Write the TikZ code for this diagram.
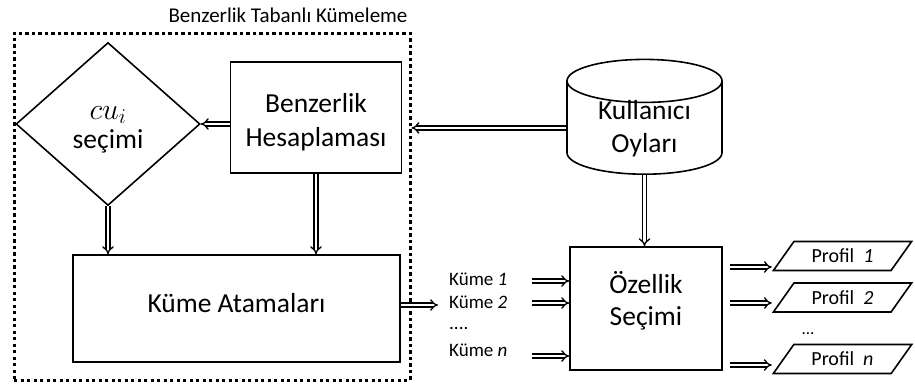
\RequirePackage{fix-cm}
\documentclass[tikz,border=0pt]{standalone}
\usepackage{fontspec}
\setmainfont{Carlito}
\usetikzlibrary{shapes}
\usetikzlibrary{shapes.geometric}
\usetikzlibrary{positioning}
\usetikzlibrary{arrows.meta}
\tikzset{
    boxnode/.style = {rectangle, line width=1.6pt, draw=black, align=center, fill=white, font=\fontsize{27.5}{33}\selectfont, text=black, inner sep=0pt},
    dianode/.style = {diamond, line width=1.6pt, draw=black, align=center, fill=white, font=\fontsize{27.5}{29}\selectfont, text=black, inner sep=0pt},
    cylnode/.style = {cylinder, shape border rotate=90, line width=1.6pt, draw=black, align=center, fill=white, font=\fontsize{27.5}{33}\selectfont, text=black, inner sep=0pt},
    profnode/.style = {trapezium, trapezium left angle=47, trapezium right angle=133, trapezium stretches=true, line width=1.6pt, draw=black, align=center, font=\fontsize{20}{22}\selectfont, text=black, inner sep=0pt},
    framenode/.style = {rectangle, line width=3pt, draw=black, dash pattern=on 3.2pt off 3.3pt},
    kumenode/.style = {anchor=west, inner sep=0pt, font=\fontsize{19}{22}\selectfont, text=black},
    titlenode/.style = {inner sep=0pt, font=\fontsize{21}{24}\selectfont, text=black},
    dbledge/.style = {double, double distance=2.6pt, line width=1.3pt, -{Implies}}
}

\begin{document}
\begin{tikzpicture}[x=1pt, y=-1pt]
  \useasboundingbox (0,0) rectangle (915,388);
  % dotted group
  \node[framenode, minimum width=396, minimum height=347] (frame) at (212,206.5) {};
  \node[titlenode] (title) at (288,15) {Benzerlik Tabanlı Kümeleme};
  % blocks
  \node[dianode, minimum width=184, minimum height=163, text height=54pt, text depth=6pt] (dia) at (108,124) {\fontsize{30}{29}\selectfont$cu_i$\\seçimi};
  \node[boxnode, minimum width=171, minimum height=111, text height=63pt, text depth=6pt, font=\fontsize{27.5}{34}\selectfont] (ben) at (316,117.5) {Benzerlik\\Hesaplaması};
  \node[boxnode, minimum width=327, minimum height=107, text height=19.5pt, text depth=12pt] (kat) at (236.5,308.5) {Küme Atamaları};
  \node[cylnode, minimum width=155, minimum height=98, aspect=0.5, text height=49.5pt, text depth=-12.5pt, anchor=south] (cyl) at (644.5,175) {\makebox[86pt][c]{Kullanıcı}\\Oyları};
  \node[boxnode, minimum width=152, minimum height=123, text height=39pt, text depth=6pt, font=\fontsize{27.5}{32}\selectfont] (ozl) at (646,308.5) {Özellik\\Seçimi};
  % cluster labels
  \node[kumenode] (k1) at (449,279) {Küme \textit{1}};
  \node[kumenode] (k2) at (449,302) {Küme \textit{2}};
  \node[kumenode] (kd) at (449,328) {....};
  \node[kumenode] (kn) at (449,350) {Küme \textit{n}};
  % profiles
  \node[profnode, minimum width=139, minimum height=29] (p1) at (842.5,256) {Profil~~\textit{1}};
  \node[profnode, minimum width=139, minimum height=29] (p2) at (842.5,297.5) {Profil~~\textit{2}};
  \node[titlenode, font=\fontsize{17}{18}\selectfont] (pd) at (808,334) {...};
  \node[profnode, minimum width=139, minimum height=29] (pn) at (842.5,359) {Profil~~\textit{n}};
  % free ends
  \coordinate (katout) at (438,305);
  \coordinate (ki1) at (532,281);
  \coordinate (ki2) at (532,303);
  \coordinate (kin) at (532,356);
  \coordinate (po1) at (730,267);
  \coordinate (po2) at (730,303);
  \coordinate (pon) at (730,365);
  % arrows
  \draw[dbledge] (ben.west |- dia.east) -- (dia.east);
  \draw[dbledge] (cyl.west) -- (cyl.west -| frame.east);
  \draw[dbledge] (ben.south) -- (ben.south |- kat.north);
  \draw[dbledge] (dia.south) -- (dia.south |- kat.north);
  \draw[dbledge] (kat.east |- katout) -- (katout);
  \draw[dbledge] (cyl.south) -- (cyl.south |- ozl.north);
  \draw[dbledge] (ki1) -- (ki1 -| ozl.west);
  \draw[dbledge] (ki2) -- (ki2 -| ozl.west);
  \draw[dbledge] (kin) -- (kin -| ozl.west);
  \draw[dbledge] (po1) -- (po1 -| p1.bottom left corner);
  \draw[dbledge] (po2) -- (po2 -| p2.bottom left corner);
  \draw[dbledge] (pon) -- (pon -| pn.bottom left corner);
\end{tikzpicture}
\end{document}
